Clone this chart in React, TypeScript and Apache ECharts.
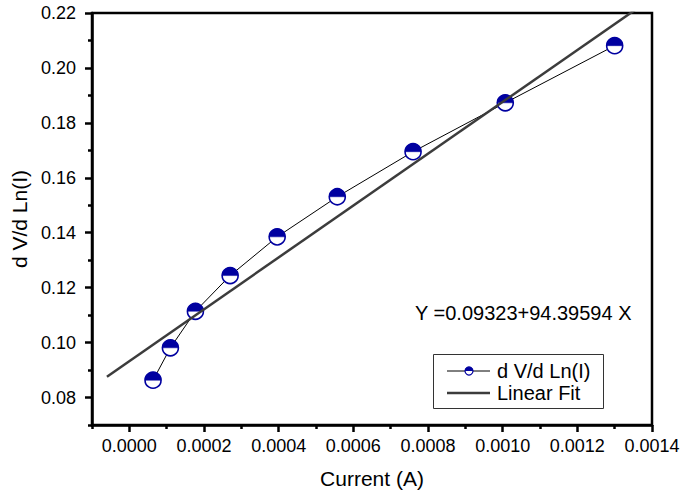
import React, { useEffect, useRef } from "react";
import * as echarts from "echarts";

const currentA = [0.0000635, 0.00011, 0.000177, 0.00027, 0.000396, 0.000557, 0.00076, 0.001007, 0.0013];
const dVdLnI = [0.0863, 0.0981, 0.1114, 0.1244, 0.1385, 0.1531, 0.1695, 0.1873, 0.2081];
const fitX = [-0.00006, 0.0014];
const fitY = [0.0876, 0.2254];
const xMajor = [0, 0.0002, 0.0004, 0.0006, 0.0008, 0.001, 0.0012, 0.0014];
const xMinor = [-0.0001, 0.0001, 0.0003, 0.0005, 0.0007, 0.0009, 0.0011, 0.0013];
const yMajor = [0.08, 0.1, 0.12, 0.14, 0.16, 0.18, 0.2, 0.22];
const yMinor = [0.07, 0.09, 0.11, 0.13, 0.15, 0.17, 0.19, 0.21];
const equationText = "Y =0.09323+94.39594 X";
const seriesName = "d V/d Ln(I)";
const fitName = "Linear Fit";

const BLUE = "#0000A0";
const FONT = "Liberation Sans, Arial, sans-serif";

export default function App() {
  const ref = useRef<HTMLDivElement>(null);
  useEffect(() => {
    if (!ref.current) return;
    const chart = echarts.init(ref.current, undefined, { renderer: "svg" });
    const pts = currentA.map((x, i) => [x, dVdLnI[i]]);
    const fit = fitX.map((x, i) => [x, fitY[i]]);
    const axisLineStyle = { color: "#000", width: 2.5 };
    chart.setOption({
      animation: false,
      backgroundColor: "#fff",
      textStyle: { fontFamily: FONT },
      grid: {
        left: 92, top: 13, right: 33, bottom: 69,
        show: true, borderColor: "#000", borderWidth: 2.5,
      },
      xAxis: [
        {
          type: "value", min: -0.0001, max: 0.0014,
          name: "Current (A)", nameLocation: "middle", nameGap: 43,
          nameTextStyle: { fontSize: 21, color: "#000", fontFamily: FONT },
          axisLine: { onZero: false, lineStyle: axisLineStyle },
          axisTick: { show: true, length: 7, lineStyle: { width: 2.5, color: "#000" }, customValues: xMajor },
          axisLabel: { customValues: xMajor, fontSize: 18, color: "#000", margin: 12, fontFamily: FONT,
            formatter: (v: number) => v.toFixed(4) },
          splitLine: { show: false },
        },
        {
          type: "value", min: -0.0001, max: 0.0014, position: "bottom",
          axisLine: { show: false, onZero: false },
          axisTick: { show: true, length: 4, lineStyle: { width: 2.5, color: "#000" }, customValues: xMinor },
          axisLabel: { show: false },
          splitLine: { show: false },
        },
      ],
      yAxis: [
        {
          type: "value", min: 0.07, max: 0.22,
          name: "d V/d Ln(I)", nameLocation: "middle", nameGap: 61,
          nameTextStyle: { fontSize: 21, color: "#000", fontFamily: FONT },
          axisLine: { onZero: false, lineStyle: axisLineStyle },
          axisTick: { show: true, length: 7, lineStyle: { width: 2.5, color: "#000" }, customValues: yMajor },
          axisLabel: { customValues: yMajor, fontSize: 18, color: "#000", margin: 16, fontFamily: FONT,
            formatter: (v: number) => v.toFixed(2) },
          splitLine: { show: false },
        },
        {
          type: "value", min: 0.07, max: 0.22, position: "left",
          axisLine: { show: false, onZero: false },
          axisTick: { show: true, length: 4, lineStyle: { width: 2.5, color: "#000" }, customValues: yMinor },
          axisLabel: { show: false },
          splitLine: { show: false },
        },
      ],
      series: [
        {
          name: seriesName, type: "line", data: pts, symbol: "none", z: 2,
          lineStyle: { color: "#000", width: 1 },
        },
        {
          name: "markers", type: "custom", data: pts, z: 3,
          encode: { x: 0, y: 1 },
          renderItem: (params: any, api: any) => {
            const p = api.coord([api.value(0), api.value(1)]);
            const r = 8;
            return {
              type: "group",
              children: [
                { type: "circle", shape: { cx: p[0], cy: p[1], r }, style: { fill: "#fff", stroke: BLUE, lineWidth: 1.6 } },
                { type: "sector", shape: { cx: p[0], cy: p[1], r0: 0, r, startAngle: Math.PI, endAngle: 2 * Math.PI, clockwise: true },
                  style: { fill: BLUE, stroke: BLUE, lineWidth: 0.5 } },
              ],
            };
          },
        },
        {
          name: fitName, type: "line", data: fit, symbol: "none", z: 4, clip: true,
          lineStyle: { color: "#3c3c3c", width: 2.5 },
        },
      ],
      graphic: [
        { type: "text", x: 415, y: 313, style: { text: equationText, fontSize: 20, fill: "#000", fontFamily: FONT, verticalAlign: "middle" } },
        { type: "rect", shape: { x: 433.5, y: 354.5, width: 170, height: 54 }, style: { fill: "#fff", stroke: "#333", lineWidth: 1 }, z: 10 },
        { type: "line", shape: { x1: 447, y1: 371, x2: 490, y2: 371 }, style: { stroke: "#000", lineWidth: 1 }, z: 11 },
        { type: "circle", shape: { cx: 469, cy: 371, r: 4 }, style: { fill: "#fff", stroke: BLUE, lineWidth: 1.2 }, z: 12 },
        { type: "sector", shape: { cx: 469, cy: 371, r0: 0, r: 4, startAngle: Math.PI, endAngle: 2 * Math.PI, clockwise: true }, style: { fill: BLUE }, z: 13 },
        { type: "text", x: 497, y: 371, style: { text: seriesName, fontSize: 20, fill: "#000", fontFamily: FONT, verticalAlign: "middle" }, z: 12 },
        { type: "line", shape: { x1: 447, y1: 393, x2: 490, y2: 393 }, style: { stroke: "#3c3c3c", lineWidth: 2.5 }, z: 11 },
        { type: "text", x: 497, y: 393, style: { text: fitName, fontSize: 20, fill: "#000", fontFamily: FONT, verticalAlign: "middle" }, z: 12 },
      ],
    });
    return () => chart.dispose();
  }, []);
  return <div ref={ref} style={{ width: 685, height: 494, position: "absolute", left: 0, top: 0 }} />;
}
